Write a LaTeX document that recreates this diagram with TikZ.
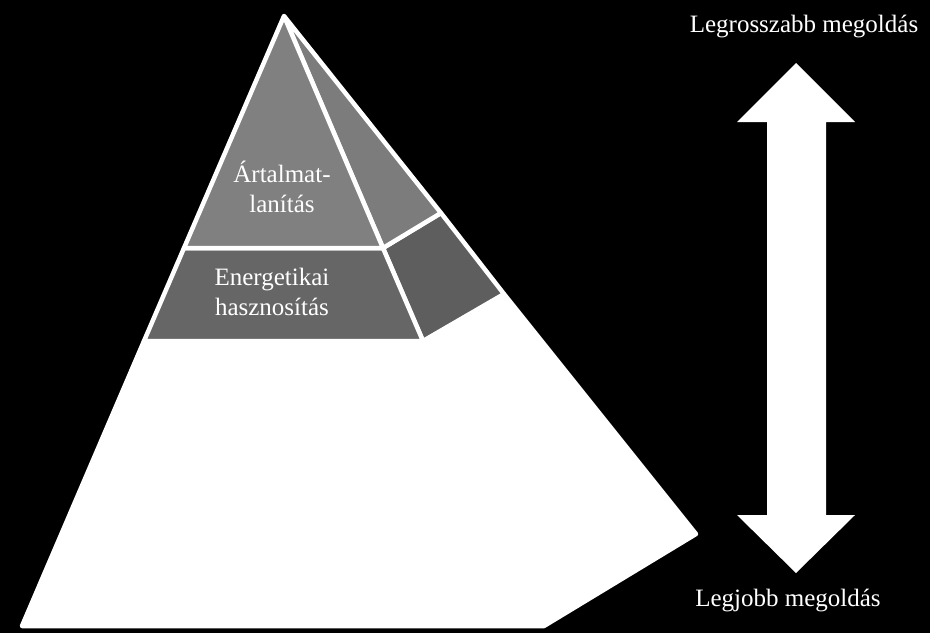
\documentclass[tikz,border=0pt]{standalone}
\usepackage{fontspec}
\setmainfont{Liberation Serif}
\usetikzlibrary{calc}
\definecolor{topfront}{RGB}{128,128,128}
\definecolor{topside}{RGB}{124,124,124}
\definecolor{midfront}{RGB}{102,102,102}
\definecolor{midside}{RGB}{94,94,94}
\tikzset{
  face/.style={draw=white, line width=4.5pt, line join=round},
  lbl/.style={text=white, font=\fontsize{25}{30}\selectfont, align=center, inner sep=0pt},
}
\begin{document}
\begin{tikzpicture}[x=1pt,y=-1pt]
\fill[black] (0,0) rectangle (930,633);
\useasboundingbox (0,0) rectangle (930,633);
% key points
\coordinate (A) at (284,16);
\coordinate (L1) at (184,248);
\coordinate (M1) at (383,248);
\coordinate (R1) at (441,213);
\coordinate (L2) at (144,341);
\coordinate (M2) at (423,341);
\coordinate (R2) at (504,294);
\coordinate (BL) at (22,626);
\coordinate (BR) at (544,626);
\coordinate (R3) at (696,534);
% bottom tier
\draw[face, fill=white] (L2) -- (M2) -- (R2) -- (R3) -- (BR) -- (BL) -- cycle;
% middle tier
\draw[face, fill=midside] (M1) -- (R1) -- (R2) -- (M2) -- cycle;
\draw[face, fill=midfront] (L1) -- (M1) -- (M2) -- (L2) -- cycle;
% top tier
\draw[face, fill=topside] (A) -- (R1) -- (M1) -- cycle;
\draw[face, fill=topfront] (A) -- (M1) -- (L1) -- cycle;
\draw[white, line width=3pt] ($(A)!0.06!(M1)$) -- ($(M1)!0.02!(A)$);
% labels
\node[lbl] (t1) at (282,187) {Ártalmat-\\lanítás};
\node[lbl] (t2) at (272,292) {Energetikai\\ hasznosítás};
% double arrow
\fill[white] (796,63) -- (855,122) -- (826,122) -- (826,515) -- (855,515) -- (796,573)
  -- (737,515) -- (767,515) -- (767,122) -- (737,122) -- cycle;
\node[lbl] (top) at (804,27) {Legrosszabb megoldás};
\node[lbl] (bot) at (788,600) {Legjobb megoldás};
\end{tikzpicture}
\end{document}
